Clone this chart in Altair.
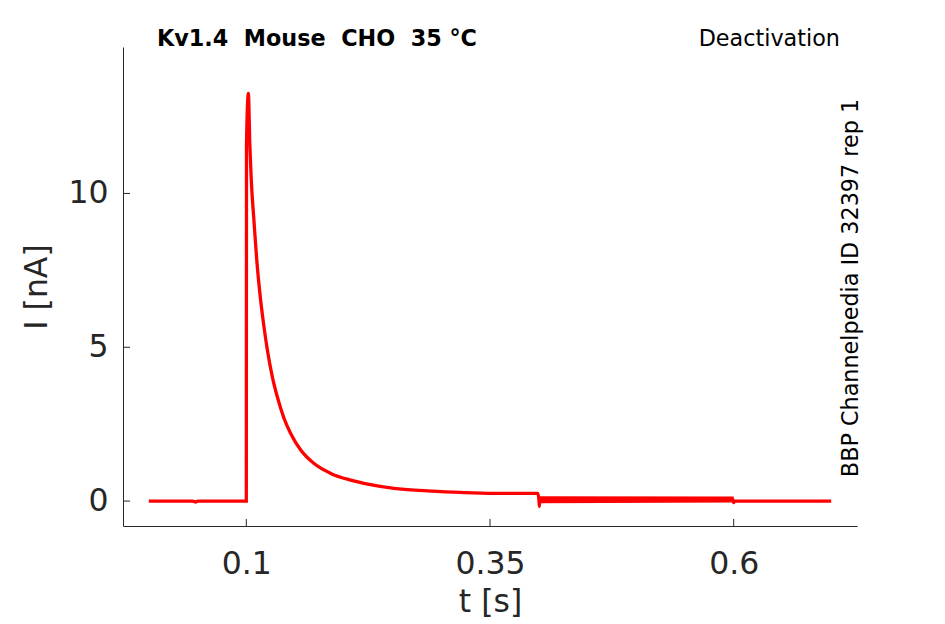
import altair as alt
import pandas as pd

# Current trace
t_s = [0.0, 0.045, 0.048, 0.05, 0.0995, 0.1, 0.1002, 0.1021, 0.1036, 0.1051, 0.1078, 0.1113,
       0.1147, 0.1181, 0.1216, 0.1267, 0.1318, 0.1387, 0.1455, 0.1558, 0.1695,
       0.1866, 0.2072, 0.226, 0.2517, 0.286, 0.320, 0.354, 0.399, 0.4002, 0.4006,
       0.401, 0.41, 0.5, 0.599, 0.6, 0.601, 0.7]
i_na = [0.0, 0.0, -0.03, 0.0, 0.0, 0.0, 11.6, 13.25, 11.6, 10.43, 9.13, 7.62,
        6.53, 5.67, 4.91, 4.04, 3.39, 2.69, 2.20, 1.66, 1.22,
        0.90, 0.68, 0.54, 0.41, 0.335, 0.28, 0.25, 0.25, 0.04, -0.17,
        0.05, 0.06, 0.06, 0.06, -0.05, 0.0, 0.0]

# Noise band between 0.4 s and 0.6 s
band_t = [0.4006, 0.6]
band_lo = [-0.07, -0.05]
band_hi = [0.16, 0.15]

x_ticks = [0.1, 0.35, 0.6]
y_ticks = [0, 5, 10]

title_txt = "Kv1.4\u00a0 Mouse\u00a0 CHO\u00a0 35 °C"
protocol_txt = "Deactivation"
id_txt = "BBP Channelpedia ID 32397 rep 1"

W, H = 734, 479
AX = "#262626"
FONT = "DejaVu Sans"

xs = alt.Scale(domain=[-0.0265, 0.7265], nice=False, zero=False)
ys = alt.Scale(domain=[-0.81, 14.76], nice=False, zero=False)

trace = pd.DataFrame({"t": t_s, "I": i_na})
band = pd.DataFrame({"t": band_t, "I": band_lo, "I2": band_hi})

xaxis = alt.Axis(values=x_ticks, title="t [s]", ticks=False, format=".2~f",
                 labelPadding=22, titlePadding=7)
yaxis = alt.Axis(values=y_ticks, title="I [nA]", ticks=False, format=".2~f",
                 labelPadding=15, titlePadding=14)

line = alt.Chart(trace).mark_line(color="#ff0000", strokeWidth=3.3, interpolate="monotone").encode(
    x=alt.X("t:Q", scale=xs, axis=xaxis),
    y=alt.Y("I:Q", scale=ys, axis=yaxis),
)

noise = alt.Chart(band).mark_area(color="#ff0000", opacity=1).encode(
    x=alt.X("t:Q", scale=xs, axis=xaxis),
    y=alt.Y("I:Q", scale=ys, axis=yaxis),
    y2="I2:Q",
)

xt = alt.Chart(pd.DataFrame({"t": x_ticks})).mark_rule(color=AX, strokeWidth=1).encode(
    x=alt.X("t:Q", scale=xs, axis=xaxis),
    y=alt.value(H - 7), y2=alt.value(H),
)
yt = alt.Chart(pd.DataFrame({"I": y_ticks})).mark_rule(color=AX, strokeWidth=1).encode(
    y=alt.Y("I:Q", scale=ys, axis=yaxis),
    x=alt.value(0), x2=alt.value(7),
)

one = pd.DataFrame({"k": [0]})
title = alt.Chart(one).mark_text(
    text=title_txt, font=FONT, fontSize=22.3, fontWeight="bold", color="#000000",
    align="left", baseline="alphabetic"
).encode(x=alt.value(34), y=alt.value(-1))

proto = alt.Chart(one).mark_text(
    text=protocol_txt, font=FONT, fontSize=22.3, color="#000000",
    align="right", baseline="alphabetic"
).encode(x=alt.value(717), y=alt.value(-1))

ident = alt.Chart(one).mark_text(
    text=id_txt, font=FONT, fontSize=22.3, color="#000000", angle=270,
    align="center", baseline="alphabetic"
).encode(x=alt.value(735), y=alt.value(241))

chart = alt.layer(line, noise, xt, yt, title, proto, ident).properties(
    width=W, height=H,
    autosize=alt.AutoSizeParams(type="none"),
    padding={"left": 115, "top": 39, "right": 80, "bottom": 100},
).configure_view(stroke=None).configure_axis(
    grid=False, domainColor=AX, domainWidth=1,
    labelFont=FONT, titleFont=FONT, labelFontSize=31.5, titleFontSize=31.5,
    labelColor=AX, titleColor=AX, titleFontWeight="normal",
)

chart.save("out.html", embed_options={"renderer": "svg", "actions": False})
